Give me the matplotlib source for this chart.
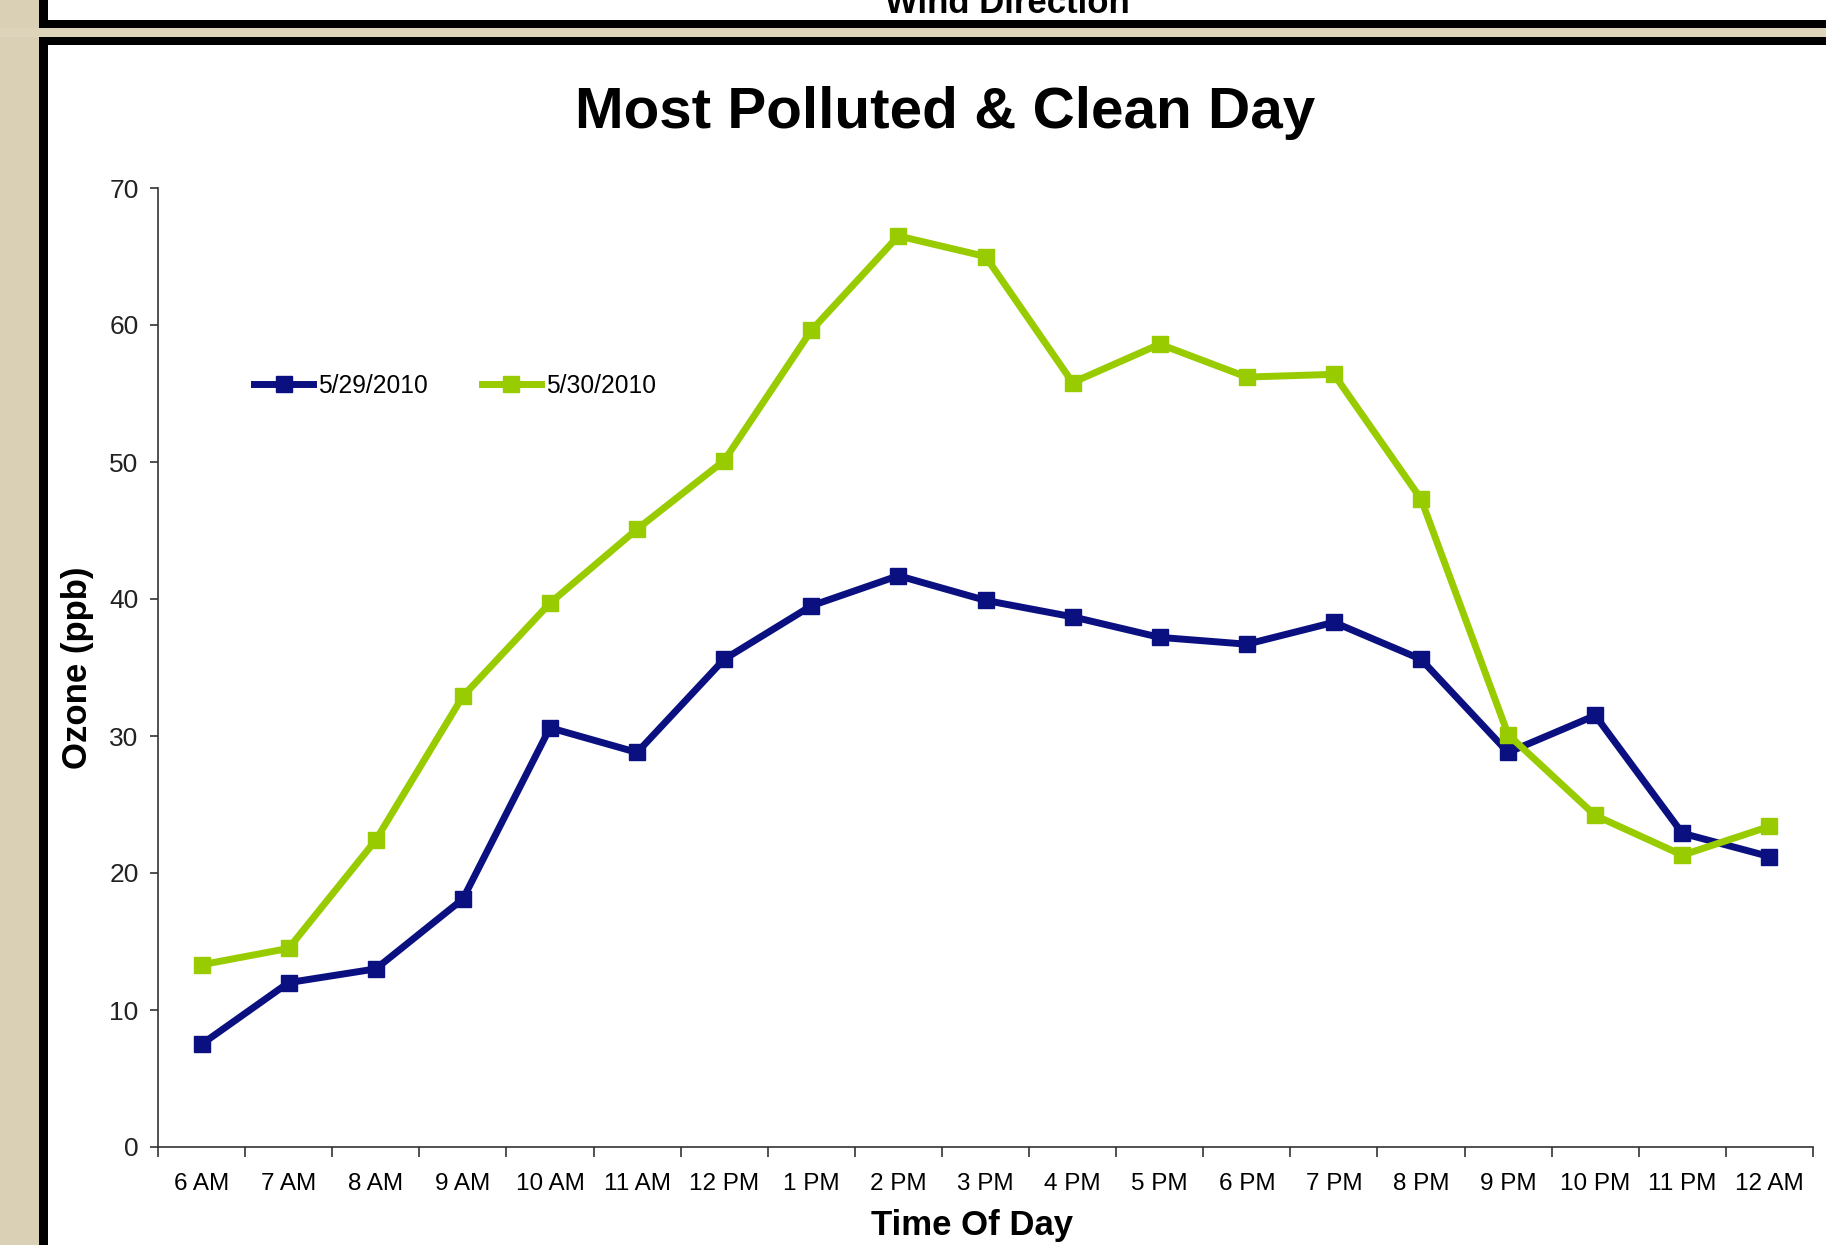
import matplotlib
matplotlib.use("Agg")
import matplotlib.pyplot as plt
from matplotlib.patches import Rectangle

plt.rcParams['font.family'] = ['Liberation Sans', 'DejaVu Sans']

hours = ['6 AM', '7 AM', '8 AM', '9 AM', '10 AM', '11 AM', '12 PM', '1 PM', '2 PM', '3 PM',
         '4 PM', '5 PM', '6 PM', '7 PM', '8 PM', '9 PM', '10 PM', '11 PM', '12 AM']

# hourly ozone readings (ppb)
ozone_0529 = [7.5, 12.0, 13.0, 18.1, 30.6, 28.8, 35.6, 39.5, 41.7, 39.9,
              38.7, 37.2, 36.7, 38.3, 35.6, 28.8, 31.5, 22.9, 21.2]
ozone_0530 = [13.3, 14.5, 22.4, 32.9, 39.7, 45.1, 50.1, 59.6, 66.5, 65.0,
              55.8, 58.6, 56.2, 56.4, 47.3, 30.1, 24.2, 21.3, 23.4]

W, H = 1826, 1245
fig = plt.figure(figsize=(W / 100, H / 100), dpi=100)
fig.patch.set_facecolor('white')


def box(x0, y0, x1, y1, color):
    # rectangle given in pixel coords measured from the top-left corner
    fig.add_artist(Rectangle((x0 / W, 1 - y1 / H), (x1 - x0) / W, (y1 - y0) / H,
                             transform=fig.transFigure, facecolor=color,
                             edgecolor='none', zorder=-5))


# slide background and panel frames
box(0, 0, 39, H, '#d9d0b6')
box(0, 28, W, 37, '#ddd4bb')
box(39, 0, 48, 28, 'black')
box(39, 20, W, 28, 'black')
box(39, 37, 48, H, 'black')
box(39, 37, W, 45, 'black')

# bottom of the chart above, cut off by the slide edge
fig.text(1007 / W, 1 - 13 / H, 'Wind Direction', ha='center', va='baseline',
         fontsize=25, fontweight='bold')

ax = fig.add_axes([158 / W, 1 - 1147 / H, (1813 - 158) / W, (1147 - 188) / H])
x = list(range(len(hours)))
ax.plot(x, ozone_0529, color='#0b1080', lw=5, marker='s', ms=11,
        solid_joinstyle='round', label='5/29/2010', zorder=3)
ax.plot(x, ozone_0530, color='#99cc00', lw=5, marker='s', ms=11,
        solid_joinstyle='round', label='5/30/2010', zorder=3)

ax.set_xlim(-0.5, len(hours) - 0.5)
ax.set_ylim(0, 70)
ax.set_yticks(range(0, 71, 10))
ax.set_xticks(x)
ax.set_xticklabels(hours)
ax.set_xticks([i - 0.5 for i in range(len(hours) + 1)], minor=True)
ax.tick_params(axis='x', which='major', length=0, pad=19, labelsize=17.5)
ax.tick_params(axis='x', which='minor', length=7, width=1.2, color='#333333')
ax.tick_params(axis='y', length=6, width=1.2, color='#333333', pad=8,
               labelsize=19, labelcolor='#222222')
for side in ['top', 'right']:
    ax.spines[side].set_visible(False)
for side in ['left', 'bottom']:
    ax.spines[side].set_linewidth(1.2)
    ax.spines[side].set_color('#333333')

ax.set_ylabel('Ozone (ppb)', fontsize=25, fontweight='bold', va='center')
ax.yaxis.set_label_coords((77 - 158) / (1813 - 158), 0.5)
ax.set_xlabel('Time Of Day', fontsize=25, fontweight='bold', va='center')
ax.xaxis.set_label_coords((972 - 158) / (1813 - 158), -(1226 - 1147) / (1147 - 188))

fig.text(945 / W, 1 - 128 / H, 'Most Polluted & Clean Day', ha='center',
         va='baseline', fontsize=42, fontweight='bold')

ax.legend(loc='center left', bbox_to_anchor=(254 / W, 1 - 386 / H),
          bbox_transform=fig.transFigure, ncol=2, frameon=False, fontsize=17.7,
          handlelength=2.4, handletextpad=0.2, columnspacing=2.2,
          borderpad=0, borderaxespad=0)

fig.savefig('out.png', dpi=100)
